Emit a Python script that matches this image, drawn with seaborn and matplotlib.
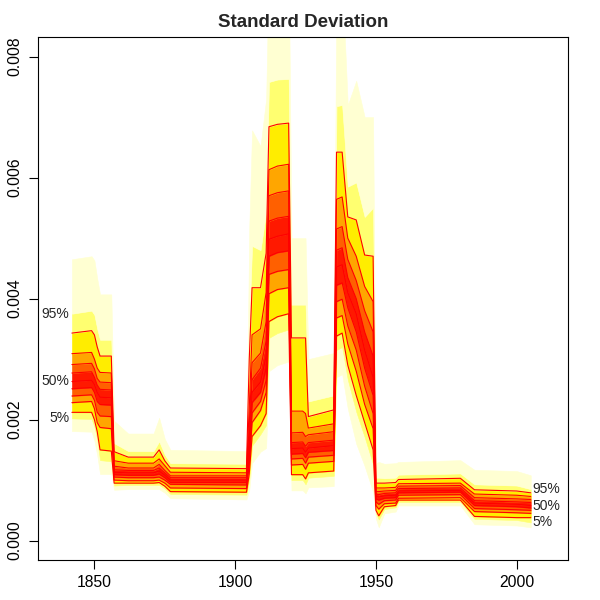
import colorsys

import numpy as np
import pandas as pd
import matplotlib
matplotlib.use("Agg")
import matplotlib.pyplot as plt
import seaborn as sns

# Fan chart of the posterior standard deviation (values in units of 1e-3)
years = [1842, 1849, 1850, 1851, 1852, 1856, 1857, 1862, 1871, 1873,
         1875, 1877, 1904, 1905, 1906, 1909, 1911, 1912, 1915, 1919,
         1920, 1924, 1925, 1926, 1935, 1936, 1938, 1940, 1943, 1946,
         1949, 1950, 1951, 1953, 1957, 1958, 1980, 1985, 2000, 2005]

q01 = [1.81, 1.80, 1.65, 1.41, 1.10, 1.10, 0.84, 0.85, 0.85, 0.85,
       0.79, 0.70, 0.68, 0.83, 1.28, 1.47, 1.53, 2.80, 2.90, 2.96,
       0.83, 0.83, 0.78, 0.88, 0.90, 2.70, 2.75, 2.18, 1.60, 1.23,
       0.80, 0.36, 0.22, 0.45, 0.48, 0.58, 0.58, 0.27, 0.25, 0.22]
q05 = [2.02, 2.01, 1.88, 1.67, 1.33, 1.31, 0.91, 0.92, 0.92, 0.92,
       0.86, 0.77, 0.76, 1.01, 1.57, 1.76, 1.91, 3.35, 3.43, 3.49,
       1.00, 1.00, 0.93, 1.04, 1.07, 3.15, 3.20, 2.66, 2.13, 1.71,
       1.26, 0.45, 0.35, 0.52, 0.55, 0.64, 0.64, 0.36, 0.34, 0.30]
q10 = [2.12, 2.12, 2.00, 1.80, 1.50, 1.48, 0.95, 0.95, 0.95, 0.96,
       0.90, 0.81, 0.80, 1.10, 1.72, 1.90, 2.10, 3.62, 3.70, 3.75,
       1.09, 1.09, 1.02, 1.12, 1.15, 3.38, 3.43, 2.90, 2.40, 1.95,
       1.50, 0.50, 0.41, 0.56, 0.58, 0.67, 0.67, 0.40, 0.38, 0.38]
q20 = [2.28, 2.30, 2.18, 1.95, 1.87, 1.85, 1.00, 0.99, 0.99, 1.00,
       0.95, 0.87, 0.86, 1.25, 1.95, 2.15, 2.45, 4.08, 4.15, 4.18,
       1.25, 1.26, 1.18, 1.28, 1.31, 3.68, 3.72, 3.25, 2.80, 2.25,
       1.85, 0.58, 0.52, 0.61, 0.62, 0.70, 0.71, 0.48, 0.46, 0.45]
q30 = [2.39, 2.41, 2.32, 2.12, 2.06, 2.05, 1.05, 1.04, 1.04, 1.05,
       1.00, 0.93, 0.92, 1.35, 2.11, 2.30, 2.65, 4.40, 4.45, 4.48,
       1.35, 1.36, 1.28, 1.38, 1.41, 3.95, 3.99, 3.55, 3.15, 2.55,
       2.10, 0.64, 0.60, 0.66, 0.67, 0.75, 0.76, 0.53, 0.51, 0.50]
q40 = [2.51, 2.53, 2.45, 2.30, 2.25, 2.24, 1.09, 1.08, 1.08, 1.10,
       1.04, 0.96, 0.96, 1.45, 2.28, 2.45, 2.85, 4.70, 4.76, 4.79,
       1.43, 1.44, 1.37, 1.46, 1.49, 4.22, 4.26, 3.85, 3.45, 2.85,
       2.40, 0.69, 0.67, 0.70, 0.71, 0.79, 0.80, 0.58, 0.56, 0.54]
q50 = [2.63, 2.65, 2.58, 2.45, 2.37, 2.36, 1.13, 1.12, 1.12, 1.15,
       1.08, 1.00, 1.00, 1.55, 2.45, 2.62, 3.05, 4.98, 5.03, 5.07,
       1.52, 1.53, 1.46, 1.53, 1.57, 4.52, 4.56, 4.10, 3.75, 3.15,
       2.70, 0.73, 0.72, 0.74, 0.75, 0.82, 0.83, 0.62, 0.60, 0.58]
q60 = [2.77, 2.79, 2.70, 2.57, 2.50, 2.49, 1.17, 1.16, 1.16, 1.20,
       1.12, 1.04, 1.04, 1.70, 2.66, 2.85, 3.30, 5.28, 5.33, 5.36,
       1.62, 1.63, 1.56, 1.62, 1.66, 4.80, 4.84, 4.35, 4.00, 3.45,
       3.05, 0.77, 0.76, 0.78, 0.79, 0.86, 0.87, 0.66, 0.64, 0.63]
q70 = [2.91, 2.93, 2.84, 2.68, 2.62, 2.61, 1.23, 1.20, 1.20, 1.26,
       1.16, 1.07, 1.07, 1.90, 2.94, 3.10, 3.62, 5.70, 5.75, 5.78,
       1.78, 1.79, 1.72, 1.75, 1.80, 5.15, 5.19, 4.65, 4.30, 3.80,
       3.45, 0.81, 0.81, 0.82, 0.83, 0.90, 0.91, 0.71, 0.69, 0.68]
q80 = [3.09, 3.11, 3.00, 2.85, 2.78, 2.77, 1.32, 1.28, 1.28, 1.35,
       1.24, 1.13, 1.12, 2.20, 3.40, 3.50, 4.10, 6.13, 6.19, 6.22,
       2.14, 2.14, 2.10, 1.86, 1.93, 5.64, 5.68, 5.00, 4.70, 4.20,
       3.95, 0.87, 0.87, 0.87, 0.88, 0.94, 0.95, 0.77, 0.75, 0.73]
q90 = [3.43, 3.47, 3.40, 3.20, 3.05, 3.05, 1.47, 1.38, 1.38, 1.50,
       1.32, 1.20, 1.19, 3.00, 4.18, 4.18, 4.75, 6.84, 6.88, 6.90,
       3.35, 3.35, 3.35, 2.05, 2.16, 6.42, 6.42, 5.35, 5.30, 4.72,
       4.70, 0.95, 0.95, 0.95, 0.96, 1.01, 1.03, 0.84, 0.82, 0.79]
q95 = [3.75, 3.80, 3.73, 3.50, 3.32, 3.32, 1.61, 1.48, 1.48, 1.64,
       1.42, 1.28, 1.27, 3.58, 4.87, 4.80, 5.43, 7.58, 7.62, 7.63,
       3.90, 3.90, 3.90, 2.30, 2.40, 7.18, 7.20, 5.85, 5.92, 5.35,
       5.50, 1.04, 1.04, 1.03, 1.04, 1.09, 1.11, 0.93, 0.91, 0.85]
q99 = [4.65, 4.70, 4.63, 4.33, 4.07, 4.07, 1.98, 1.77, 1.77, 2.03,
       1.68, 1.50, 1.48, 5.18, 6.78, 6.52, 7.30, 9.63, 9.66, 9.65,
       5.00, 5.00, 5.00, 3.00, 3.10, 9.30, 9.30, 7.20, 7.60, 7.00,
       7.00, 1.28, 1.30, 1.27, 1.28, 1.30, 1.33, 1.17, 1.15, 1.08]

levels = [1, 5, 10, 20, 30, 40, 50, 60, 70, 80, 90, 95, 99]
line_levels = [10, 20, 30, 40, 50, 60, 70, 80, 90]
label_levels = [5, 50, 95]
scale = 1e-3


def heat_color(dist):
    """R heat.colors(49) style colour, dist = percent distance from the median."""
    if dist <= 36:
        return colorsys.hsv_to_rgb(dist / 36 / 6, 1.0, 1.0)
    idx = dist - 37
    sat = max((1 - 1 / 24) - idx * (1 - 2 / 24) / 11, 0.04)
    return colorsys.hsv_to_rgb(1 / 6, sat, 1.0)


sns.set_style("ticks")
plt.rcParams['font.family'] = ['Liberation Sans', 'DejaVu Sans']

quant = dict(zip(levels, [np.array(q) * scale for q in
                          (q01, q05, q10, q20, q30, q40, q50,
                           q60, q70, q80, q90, q95, q99)]))
x = np.array(years)

fig, ax = plt.subplots(figsize=(6, 6), dpi=100)
fig.subplots_adjust(left=0.064, right=0.947, bottom=0.0667, top=0.938)

# fan bands, coloured by distance from the median (leaning to the inner edge)
for lo, hi in zip(levels[:-1], levels[1:]):
    inner = min(abs(lo - 50), abs(hi - 50))
    col = heat_color(inner + 0.35 * abs(hi - lo))
    ax.fill_between(x, quant[lo], quant[hi], facecolor=col,
                    edgecolor=col, linewidth=0.4)

# percentile lines
lines = pd.DataFrame({
    'year': np.tile(x, len(line_levels)),
    'value': np.concatenate([quant[l] for l in line_levels]),
    'level': np.repeat(line_levels, len(x)),
})
sns.lineplot(data=lines, x='year', y='value', units='level',
             estimator=None, color='#FF0000', linewidth=0.8,
             sort=False, legend=False, ax=ax)

# percentile labels at both ends
for lvl in label_levels:
    ax.annotate(f"{lvl}%", (x[0], quant[lvl][0]), xytext=(-2, 0),
                textcoords='offset points', ha='right', va='center',
                fontsize=10)
    ax.annotate(f"{lvl}%", (x[-1], quant[lvl][-1]), xytext=(1, 0),
                textcoords='offset points', ha='left', va='center',
                fontsize=10)

ax.set_xlim(1830.1, 2018.3)
ax.set_ylim(-0.00032, 0.00832)
ax.set_xticks([1850, 1900, 1950, 2000])
ax.set_yticks([0, 0.002, 0.004, 0.006, 0.008])
ax.set_yticklabels([f"{v:.3f}" for v in ax.get_yticks()])
ax.set_xlabel('')
ax.set_ylabel('')
ax.tick_params(direction='out', length=6.8, width=0.8, color='black',
               labelsize=11.3, labelcolor='black')
ax.tick_params(axis='x', pad=4)
ax.tick_params(axis='y', pad=5)
for lab in ax.get_yticklabels():
    lab.set_rotation(90)
    lab.set_va('center')
for sp in ax.spines.values():
    sp.set_color('black')
    sp.set_linewidth(0.8)

ax.set_title('Standard Deviation', fontweight='bold', fontsize=13.5, pad=7)

fig.savefig('out.png', dpi=100, facecolor='white')
